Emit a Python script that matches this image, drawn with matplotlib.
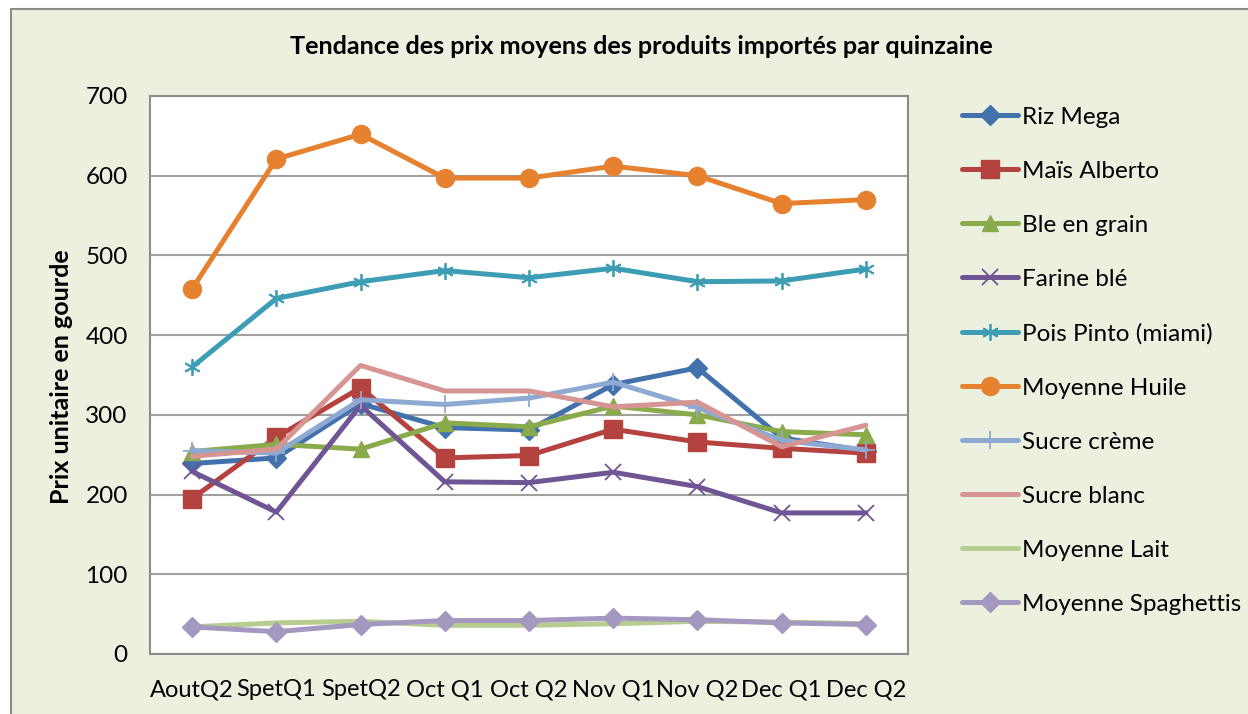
import matplotlib
matplotlib.use("Agg")
import matplotlib.pyplot as plt
from matplotlib.patches import Rectangle

categories = ["AoutQ2", "SpetQ1", "SpetQ2", "Oct Q1", "Oct Q2", "Nov Q1", "Nov Q2", "Dec Q1", "Dec Q2"]

riz_mega = [239, 246, 314, 284, 281, 338, 359, 271, 255]
mais_alberto = [195, 272, 334, 246, 249, 282, 266, 258, 252]
ble_grain = [254, 263, 257, 290, 285, 311, 300, 279, 275]
farine_ble = [229, 178, 312, 216, 215, 228, 210, 177, 177]
pois_pinto = [360, 446, 467, 481, 472, 484, 467, 468, 483]
moy_huile = [458, 621, 652, 597, 597, 612, 600, 565, 570]
sucre_creme = [255, 252, 319, 313, 321, 341, 309, 268, 256]
sucre_blanc = [248, 257, 362, 330, 330, 310, 316, 260, 287]
moy_lait = [34, 39, 41, 36, 36, 38, 41, 40, 38]
moy_spag = [34, 28, 37, 42, 42, 45, 43, 39, 37]

series_names = ["Riz Mega", "Maïs Alberto", "Ble en grain", "Farine blé", "Pois Pinto (miami)",
                "Moyenne Huile", "Sucre crème", "Sucre blanc", "Moyenne Lait", "Moyenne Spaghettis"]
series_values = [riz_mega, mais_alberto, ble_grain, farine_ble, pois_pinto,
                 moy_huile, sucre_creme, sucre_blanc, moy_lait, moy_spag]
colors = ["#4371AC", "#B4423F", "#8AAB4C", "#6F5594", "#3C9DB5",
          "#E6812F", "#8FAAD2", "#D69592", "#B5CD8F", "#A598C0"]
markers = ["D", "s", "^", "x", (6, 2, 0), "o", "+", None, None, "D"]
msizes = [10, 13, 12, 12, 12, 13, 13, 0, 0, 10]

FONT = ["Lato", "DejaVu Sans"]
plt.rcParams["font.family"] = FONT

fig = plt.figure(figsize=(12.48, 7.14), dpi=100)
fig.patch.set_facecolor("white")
W, H = 1248, 714
bg = Rectangle((11 / W, -0.1), 1.2, 1.1 - 9 / H, transform=fig.transFigure,
               facecolor="#EBF0DF", edgecolor="#8C8C8C", linewidth=1.5, zorder=-10)
fig.patches.append(bg)

ax = fig.add_axes([150 / W, 1 - 654 / H, (908 - 150) / W, (654 - 96) / H])
ax.set_zorder(2)
ax.set_facecolor("white")
x = list(range(len(categories)))
handles = []
for name, vals, c, m, ms in zip(series_names, series_values, colors, markers, msizes):
    kw = dict(color=c, linewidth=3.6, solid_capstyle="round", solid_joinstyle="round")
    if m is not None:
        if m in ("x", "+", (6, 2, 0)):
            kw.update(marker=m, markersize=ms, markeredgewidth=1.3, markeredgecolor=c)
        else:
            kw.update(marker=m, markersize=ms, markerfacecolor=c, markeredgecolor=c)
    h, = ax.plot(x, vals, label=name, **kw)
    handles.append(h)

ax.set_xlim(-0.5, len(categories) - 0.5)
ax.set_ylim(0, 700)
ax.set_yticks(range(0, 701, 100))
ax.set_xticks(x)
ax.set_xticklabels(categories)
ax.yaxis.grid(True, color="#A0A0A0", linewidth=1.5)
ax.set_axisbelow(True)
for s in ax.spines.values():
    s.set_color("#8C8C8C")
    s.set_linewidth(1.5)
ax.tick_params(axis="both", labelsize=17.5, length=0)
ax.tick_params(axis="x", labelsize=17)
ax.tick_params(axis="y", pad=16)
ax.tick_params(axis="x", pad=18)

fig.text(641 / W, 1 - 46 / H, "Tendance des prix moyens des produits importés par quinzaine",
         ha="center", va="center", fontsize=18.2, fontweight="bold")
fig.text(62 / W, 1 - 377 / H, "Prix unitaire en gourde", rotation=90,
         ha="center", va="center", fontsize=18, fontweight="bold")

leg = fig.legend(handles=handles, loc="upper left", bbox_to_anchor=(952 / W, 1 - 97 / H),
                 frameon=False, fontsize=17.5, handlelength=2.3, handletextpad=0.2,
                 labelspacing=1.36, borderaxespad=0)

fig.savefig("out.png", dpi=100, facecolor=fig.get_facecolor())
